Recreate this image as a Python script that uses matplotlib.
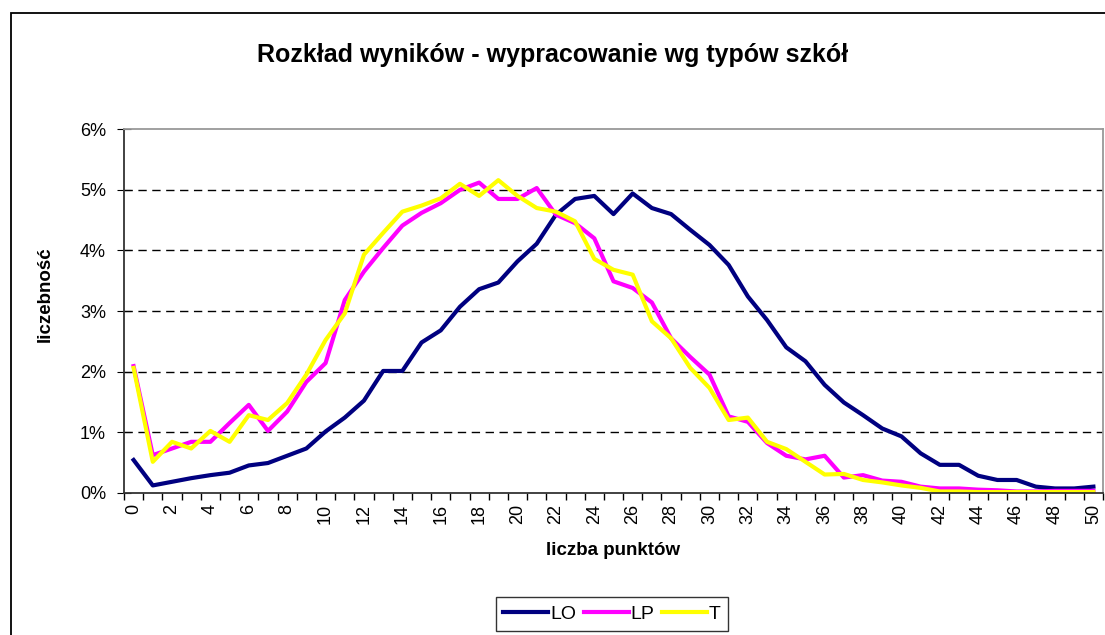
import matplotlib
matplotlib.use('Agg')
import matplotlib.pyplot as plt
import numpy as np
from matplotlib.ticker import FixedLocator, FuncFormatter
from matplotlib.patches import Rectangle

plt.rcParams['font.family'] = ['Liberation Sans', 'DejaVu Sans']

points = list(range(51))

lo = [0.54, 0.12, 0.18, 0.24, 0.29, 0.33, 0.45, 0.49, 0.61, 0.73,
      1.01, 1.24, 1.52, 2.01, 2.01, 2.48, 2.68, 3.07, 3.36, 3.47,
      3.82, 4.11, 4.59, 4.85, 4.90, 4.60, 4.94, 4.70, 4.60, 4.34,
      4.09, 3.76, 3.24, 2.85, 2.40, 2.17, 1.78, 1.49, 1.28, 1.06,
      0.93, 0.65, 0.46, 0.46, 0.28, 0.21, 0.21, 0.10, 0.07, 0.07,
      0.10]

lp = [2.09, 0.62, 0.73, 0.84, 0.84, 1.15, 1.45, 1.02, 1.34, 1.83,
      2.14, 3.18, 3.65, 4.04, 4.41, 4.62, 4.78, 5.00, 5.12, 4.85,
      4.85, 5.03, 4.59, 4.45, 4.20, 3.49, 3.38, 3.14, 2.55, 2.24,
      1.95, 1.26, 1.17, 0.82, 0.61, 0.55, 0.61, 0.25, 0.29, 0.20,
      0.18, 0.10, 0.07, 0.07, 0.05, 0.04, 0.02, 0.02, 0.03, 0.03,
      0.03]

t = [2.06, 0.51, 0.84, 0.73, 1.02, 0.84, 1.28, 1.20, 1.48, 1.95,
     2.52, 2.96, 3.93, 4.29, 4.64, 4.74, 4.86, 5.10, 4.90, 5.16,
     4.90, 4.70, 4.64, 4.48, 3.86, 3.68, 3.60, 2.83, 2.55, 2.06,
     1.73, 1.20, 1.24, 0.84, 0.72, 0.51, 0.30, 0.31, 0.21, 0.17,
     0.12, 0.08, 0.02, 0.02, 0.01, 0.01, 0.01, 0.01, 0.01, 0.01,
     0.01]

fig = plt.figure(figsize=(11.05, 6.35), dpi=100)
fig.patches.append(Rectangle((11 / 1105, -0.1), 1.2, 1 - 13 / 635 + 0.1,
                             transform=fig.transFigure, fill=False,
                             edgecolor='black', linewidth=1.3))

ax = fig.add_axes([124 / 1105, 1 - 492.7 / 635, 979 / 1105, 363.4 / 635])

ax.plot(points, lo, color='#000080', lw=3, label='LO', solid_joinstyle='round')
ax.plot(points, lp, color='#FF00FF', lw=3, label='LP', solid_joinstyle='round')
ax.plot(points, t, color='#FFFF00', lw=3, label='T', solid_joinstyle='round')

ax.set_xlim(-0.5, 50.5)
ax.set_ylim(0, 6)

ax.set_yticks(range(7))
ax.yaxis.set_major_formatter(FuncFormatter(lambda v, p: '%d%%' % v))
for v in range(1, 6):
    ax.axhline(v, color='black', lw=1, ls=(0, (6, 4)), zorder=0)

ax.xaxis.set_major_locator(FixedLocator(range(0, 51, 2)))
ax.xaxis.set_minor_locator(FixedLocator(np.arange(-0.5, 51, 1)))
ax.tick_params(axis='x', which='major', length=0, pad=8, labelsize=13,
               labelrotation=90)
ax.tick_params(axis='x', which='minor', length=5, direction='out', width=1)
ax.tick_params(axis='y', length=10, direction='inout', labelsize=13, pad=8)

for s in ['left', 'bottom']:
    ax.spines[s].set_color('#333333')
    ax.spines[s].set_linewidth(1.3)
for s in ['top', 'right']:
    ax.spines[s].set_color('#999999')
    ax.spines[s].set_linewidth(1.3)

ax.set_xlabel('liczba punktów', fontsize=13.5, fontweight='bold', labelpad=13)
fig.text(45 / 1105, 1 - 294 / 635, 'liczebność', rotation=90,
         ha='center', va='center', fontsize=13.5, fontweight='bold')

fig.text(553 / 1105, 1 - 55 / 635, 'Rozkład wyników - wypracowanie wg typów szkół',
         ha='center', va='center', fontsize=18, fontweight='bold')

leg = fig.legend(loc='center', bbox_to_anchor=(612 / 1105, 1 - 614 / 635),
                 ncol=3, frameon=True, fancybox=False, fontsize=14,
                 handlelength=2.3, handletextpad=0.1, columnspacing=0.4,
                 borderpad=0.4, borderaxespad=0)
leg.get_frame().set_edgecolor('black')
leg.get_frame().set_linewidth(1)

fig.savefig('out.png', dpi=100)
